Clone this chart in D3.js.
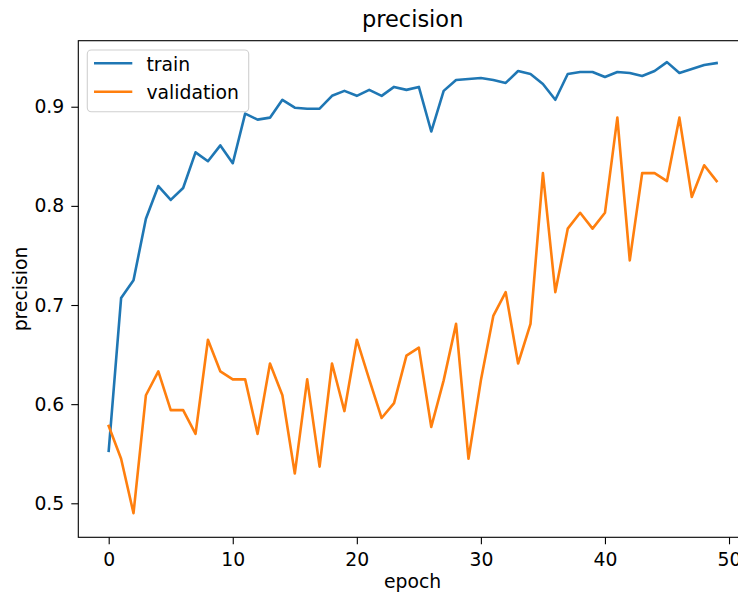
<!DOCTYPE html>
<html>
<head>
<meta charset="utf-8">
<script src="https://cdn.jsdelivr.net/npm/d3@7"></script>
<style>
  html, body { margin: 0; padding: 0; background: #fff; }
  svg { display: block; font-family: "DejaVu Sans", sans-serif; }
</style>
</head>
<body>
<svg id="chart" width="738" height="592"></svg>
<script>
// Per-epoch precision for the training and validation sets
const epochs = d3.range(0, 50);
const trainPrecision = [
  0.553, 0.707, 0.725, 0.787, 0.820, 0.806, 0.818, 0.854, 0.845, 0.861,
  0.843, 0.893, 0.887, 0.889, 0.907, 0.899, 0.898, 0.898, 0.911, 0.916,
  0.911, 0.917, 0.911, 0.920, 0.917, 0.920, 0.875, 0.916, 0.927, 0.928,
  0.929, 0.927, 0.924, 0.936, 0.933, 0.923, 0.907, 0.933, 0.935, 0.935,
  0.930, 0.935, 0.934, 0.931, 0.936, 0.945, 0.934, 0.938, 0.942, 0.944
];
const validationPrecision = [
  0.578, 0.545, 0.490, 0.609, 0.633, 0.594, 0.594, 0.570, 0.665, 0.633,
  0.625, 0.625, 0.570, 0.641, 0.609, 0.530, 0.625, 0.537, 0.641, 0.593,
  0.665, 0.625, 0.586, 0.601, 0.649, 0.657, 0.577, 0.624, 0.681, 0.545,
  0.624, 0.689, 0.713, 0.641, 0.681, 0.833, 0.713, 0.777, 0.793, 0.777,
  0.793, 0.889, 0.745, 0.833, 0.833, 0.825, 0.889, 0.809, 0.841, 0.825
];
const xTicks = [0, 10, 20, 30, 40, 50];
const yTicks = [0.5, 0.6, 0.7, 0.8, 0.9];
const seriesNames = ["train", "validation"];
const seriesColors = ["#1f77b4", "#ff7f0e"];

const svg = d3.select("#chart");
const plot = { left: 78.3, right: 747.0, top: 40.7, bottom: 537.3 };
const FONT = 18.8;

const x = d3.scaleLinear().domain([-2.45, 51.45]).range([plot.left, plot.right]);
const y = d3.scaleLinear().domain([0.4657, 0.9666]).range([plot.bottom, plot.top]);

// Data lines
const line = d3.line().x((d, i) => x(epochs[i])).y(d => y(d));
[trainPrecision, validationPrecision].forEach((vals, k) => {
  svg.append("path")
    .datum(vals)
    .attr("d", line)
    .attr("fill", "none")
    .attr("stroke", seriesColors[k])
    .attr("stroke-width", 2.6)
    .attr("stroke-linejoin", "round")
    .attr("stroke-linecap", "square");
});

// Axes frame
svg.append("rect")
  .attr("x", plot.left).attr("y", plot.top)
  .attr("width", plot.right - plot.left).attr("height", plot.bottom - plot.top)
  .attr("fill", "none").attr("stroke", "#000").attr("stroke-width", 1.1);

// Bottom axis
const xAxis = svg.append("g")
  .attr("transform", `translate(0,${plot.bottom})`)
  .call(d3.axisBottom(x).tickValues(xTicks).tickFormat(d3.format("d")).tickSize(7).tickSizeOuter(0).tickPadding(8));
// Left axis
const yAxis = svg.append("g")
  .attr("transform", `translate(${plot.left},0)`)
  .call(d3.axisLeft(y).tickValues(yTicks).tickFormat(d3.format(".1f")).tickSize(7).tickSizeOuter(0).tickPadding(7));

[xAxis, yAxis].forEach(g => {
  g.select(".domain").remove();
  g.selectAll(".tick line").attr("stroke", "#000").attr("stroke-width", 1.1);
  g.selectAll(".tick text")
    .attr("fill", "#000")
    .style("font-size", FONT + "px")
    .style("font-family", "'DejaVu Sans', sans-serif");
});

// Title and axis labels
svg.append("text")
  .attr("x", (plot.left + plot.right) / 2).attr("y", 27)
  .attr("text-anchor", "middle")
  .style("font-size", "22.5px")
  .attr("fill", "#000")
  .text("precision");

svg.append("text")
  .attr("x", (plot.left + plot.right) / 2).attr("y", 587.5)
  .attr("text-anchor", "middle")
  .style("font-size", FONT + "px")
  .attr("fill", "#000")
  .text("epoch");

svg.append("text")
  .attr("transform", `translate(27,${(plot.top + plot.bottom) / 2}) rotate(-90)`)
  .attr("text-anchor", "middle")
  .style("font-size", FONT + "px")
  .attr("fill", "#000")
  .text("precision");

// Legend
const legend = svg.append("g");
legend.append("rect")
  .attr("x", 87.3).attr("y", 50)
  .attr("width", 161.4).attr("height", 61.7)
  .attr("rx", 4).attr("ry", 4)
  .attr("fill", "#fff").attr("fill-opacity", 0.8)
  .attr("stroke", "#d0d0d0").attr("stroke-width", 1.1);

seriesNames.forEach((name, k) => {
  const cy = 63.3 + k * 28.4;
  legend.append("line")
    .attr("x1", 94).attr("x2", 132.3)
    .attr("y1", cy).attr("y2", cy)
    .attr("stroke", seriesColors[k]).attr("stroke-width", 2.6);
  legend.append("text")
    .attr("x", 146.5).attr("y", cy + 7.2)
    .style("font-size", FONT + "px")
    .attr("fill", "#000")
    .text(name);
});
</script>
</body>
</html>
